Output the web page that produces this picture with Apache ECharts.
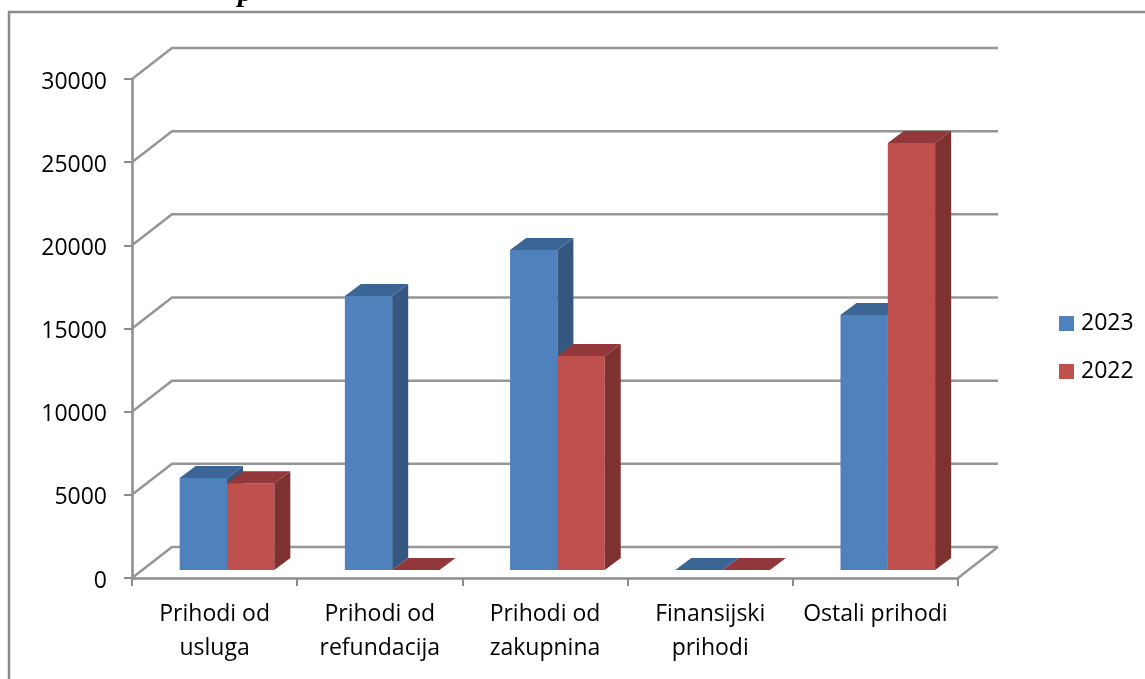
<!DOCTYPE html>
<html><head><meta charset="utf-8">
<style>html,body{margin:0;padding:0;background:#fff;overflow:hidden}#c{width:1145px;height:679px}</style>
<script src="https://cdn.jsdelivr.net/npm/echarts@6/dist/echarts.min.js"></script>
</head><body><div id="c"></div>
<script>
const categories = ['Prihodi od\nusluga','Prihodi od\nrefundacija','Prihodi od\nzakupnina','Finansijski\nprihodi','Ostali prihodi'];
const values2023 = [5530,16470,19240,0,15330];
const values2022 = [5220,0,12860,0,25670];
const gridTicks = [0,5000,10000,15000,20000,25000,30000];
const DX=40, DY=-31, BX=16, BY=-12, LIFT=-8, SHIFT=12.4, FONT='"Open Sans"';
const AX='#8c8c8c';

function wallItem(params, api){
  const cs=params.coordSys, v=api.value(0), y=api.coord([0,v])[1];
  const left=cs.x, right=cs.x+cs.width;
  const st={stroke:'#969696',lineWidth:2.5,fill:null};
  const kids=[{type:'polyline',shape:{points:[[left,y],[left+DX,y+DY],[right+DX,y+DY]]},style:st}];
  if(v===0) kids.push({type:'line',shape:{x1:right,y1:y,x2:right+DX,y2:y+DY},style:st});
  return {type:'group',children:kids};
}
function barItem(offset,front,top,side){
  return function(params,api){
    const i=api.value(0), v=api.value(1);
    const cx=api.coord([i,0])[0]+SHIFT, y0=api.coord([i,0])[1]+LIFT, y1=api.coord([i,v])[1]+LIFT;
    const w=api.size([1,0])[0]*0.2865;
    const x0=cx+offset*w, x1=x0+w;
    const k=[];
    if(y0-y1>0.5){
      k.push({type:'rect',shape:{x:x0,y:y1,width:w,height:y0-y1},style:{fill:front}});
      k.push({type:'polygon',shape:{points:[[x1,y0],[x1+BX,y0+BY],[x1+BX,y1+BY],[x1,y1]]},style:{fill:side}});
    }
    k.push({type:'polygon',shape:{points:[[x0,y1],[x0+BX,y1+BY],[x1+BX,y1+BY],[x1,y1]]},style:{fill:top}});
    return {type:'group',children:k};
  };
}
const chart=echarts.init(document.getElementById('c'),null,{renderer:'canvas'});
chart.setOption({
  animation:false,
  backgroundColor:'#fff',
  grid:{left:132,right:187,top:79,bottom:101},
  graphic:[
    {type:'rect',z:-5,shape:{x:9,y:12,width:1200,height:700},style:{fill:'#fff',stroke:'#8c8c8c',lineWidth:2.5}},
    {type:'text',z:5,left:238,top:-22,style:{text:'p',font:'italic bold 30px "Liberation Serif"',fill:'#000'}}
  ],
  legend:{left:1059,top:312,padding:0,orient:'vertical',itemWidth:15,itemHeight:15,itemGap:25,icon:'rect',
    data:['2023','2022'],textStyle:{fontFamily:FONT,fontSize:23,color:'#000',padding:[0,0,0,2]}},
  xAxis:{type:'category',data:categories,
    axisLine:{lineStyle:{color:AX,width:2.5}},
    axisTick:{show:true,alignWithLabel:false,length:8,lineStyle:{color:AX,width:2}},
    axisLabel:{color:'#000',fontFamily:FONT,fontSize:23,lineHeight:34,margin:19,interval:0},
    splitLine:{show:false}},
  yAxis:{type:'value',min:0,max:30000,interval:5000,
    axisLine:{show:true,lineStyle:{color:AX,width:2.5}},
    axisTick:{show:true,length:8,lineStyle:{color:AX,width:2}},
    axisLabel:{color:'#000',fontFamily:FONT,fontSize:23,margin:25,verticalAlign:'top',lineHeight:6,formatter:v=>String(v)},
    splitLine:{show:false}},
  series:[
    {type:'custom',name:'walls',silent:true,z:1,renderItem:wallItem,data:gridTicks.map(v=>[v]),encode:{y:0},clip:false},
    {type:'custom',name:'2023',z:2,itemStyle:{color:'#4F81BD'},renderItem:barItem(-1,'#4F81BD','#3B6595','#355780'),
      data:values2023.map((v,i)=>[i,v]),encode:{x:0,y:1},clip:false},
    {type:'custom',name:'2022',z:3,itemStyle:{color:'#C0504D'},renderItem:barItem(0,'#C0504D','#93383A','#7E3230'),
      data:values2022.map((v,i)=>[i,v]),encode:{x:0,y:1},clip:false}
  ]
});
</script></body></html>
